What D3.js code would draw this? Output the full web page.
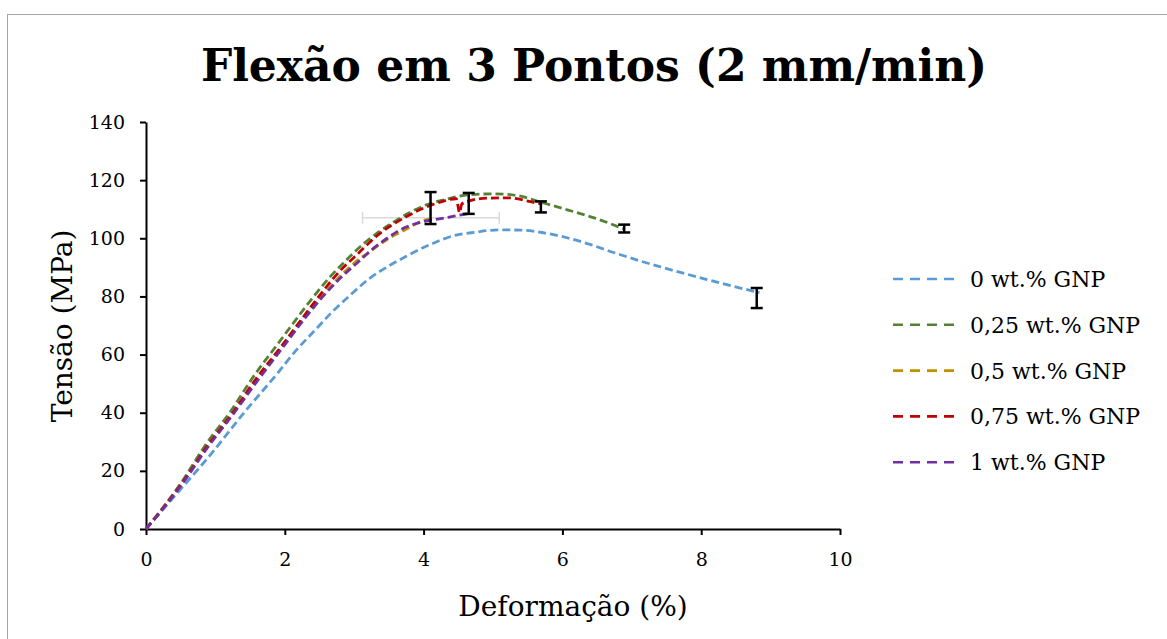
<!DOCTYPE html>
<html>
<head>
<meta charset="utf-8">
<script src="https://cdn.jsdelivr.net/npm/d3@7"></script>
<style>
  body { margin: 0; background: #fff; }
  text { font-family: Georgia, "DejaVu Serif", serif; fill: #000; }
</style>
</head>
<body>
<div id="chart"></div>
<script>
// data
const seriesNames = ["0 wt.% GNP", "0,25 wt.% GNP", "0,5 wt.% GNP", "0,75 wt.% GNP", "1 wt.% GNP"];
const seriesColors = ["#5b9bd5", "#548235", "#bf9000", "#c00000", "#7030a0"];

const strain0  = [0, 0.39, 0.93, 1.43, 1.91, 2.15, 2.42, 2.68, 2.95, 3.21, 3.50, 3.75, 4.09, 4.42, 4.75, 5.08, 5.42, 5.75, 6.08, 6.41, 6.74, 7.08, 7.41, 7.74, 8.07, 8.41, 8.84];
const stress0  = [0, 10.7, 25.6, 40.5, 54.0, 61.1, 68.0, 74.6, 80.6, 86.0, 90.5, 93.8, 97.8, 100.8, 102.1, 102.9, 102.8, 101.8, 100.1, 97.8, 95.1, 92.5, 90.2, 88.0, 85.9, 83.8, 81.3];

const strain025 = [0, 0.52, 0.86, 1.22, 1.55, 1.91, 2.15, 2.39, 2.63, 2.89, 3.15, 3.38, 3.57, 3.81, 4.05, 4.34, 4.63, 5.01, 5.35, 5.69, 6.07, 6.46, 6.89];
const stress025 = [0, 16.4, 29.0, 40.5, 52.5, 64.0, 71.7, 79.2, 86.1, 92.6, 98.4, 102.6, 105.6, 109.0, 111.6, 113.5, 114.9, 115.3, 114.7, 112.4, 109.8, 107.0, 103.2];

const strain05 = [0, 0.52, 0.88, 1.25, 1.60, 1.95, 2.30, 2.55, 2.80, 3.07, 3.19, 3.31, 3.50, 3.69, 3.84, 3.96, 4.08];
const stress05 = [0, 15.8, 28.3, 39.8, 51.2, 62.2, 73.2, 80.5, 87.0, 92.8, 94.8, 96.9, 100.0, 102.4, 104.3, 105.8, 106.6];

const strain075 = [0, 0.52, 0.88, 1.25, 1.58, 1.94, 2.30, 2.54, 2.78, 3.05, 3.32, 3.74, 4.17, 4.47, 4.52, 4.55, 4.63, 4.91, 5.22, 5.52, 5.69];
const stress075 = [0, 15.8, 28.4, 40.0, 51.5, 62.5, 74.0, 81.5, 88.4, 94.6, 100.7, 107.3, 111.9, 113.6, 108.8, 111.8, 112.6, 113.8, 113.9, 112.7, 111.8];

const strain1 = [0, 0.52, 0.88, 1.25, 1.60, 1.95, 2.30, 2.55, 2.80, 3.07, 3.28, 3.48, 3.67, 3.88, 4.05, 4.20, 4.37, 4.51, 4.63];
const stress1 = [0, 15.4, 27.8, 39.3, 50.8, 61.8, 72.8, 80.0, 86.3, 92.1, 96.6, 100.1, 103.0, 105.0, 106.0, 106.6, 107.3, 107.9, 108.4];

// vertical error bars (black)
const errStrain = [4.10, 4.65, 5.69, 6.89, 8.80];
const errLow    = [104.9, 108.4, 108.9, 102.0, 76.0];
const errHigh   = [115.9, 115.6, 112.7, 104.7, 82.9];

// horizontal error bar (light grey)
const xErrStress = 107.1;
const xErrLow = 3.12;
const xErrHigh = 5.09;

const xTicks = [0, 2, 4, 6, 8, 10];
const yTicks = [0, 20, 40, 60, 80, 100, 120, 140];

const titleText = "Flexão em 3 Pontos (2 mm/min)";
const xLabel = "Deformação (%)";
const yLabel = "Tensão (MPa)";

const W = 1167, H = 639;
const margin = { top: 122, left: 146 },
  width = 694,
  height = 407;

const svg = d3.select("#chart").append("svg")
  .attr("width", W)
  .attr("height", H);

svg.append("rect")
  .attr("x", 7.5).attr("y", 14.5)
  .attr("width", W + 20).attr("height", H + 20)
  .attr("fill", "#fff")
  .attr("stroke", "#a6a6a6")
  .attr("stroke-width", 1);

const g = svg.append("g")
  .attr("transform", "translate(" + margin.left + "," + margin.top + ")");

const x = d3.scaleLinear().domain([0, 10]).range([0, width]);
const y = d3.scaleLinear().domain([0, 140]).range([height, 0]);

svg.append("text")
  .attr("x", 594)
  .attr("y", 81)
  .attr("text-anchor", "middle")
  .style("font-size", "44px")
  .style("font-weight", "bold")
  .text(titleText);

// axes
const xAxis = d3.axisBottom(x).tickValues(xTicks).tickSize(6).tickPadding(18).tickSizeOuter(0);
const yAxis = d3.axisLeft(y).tickValues(yTicks).tickSize(6).tickPadding(15).tickSizeOuter(0);

const gx = g.append("g")
  .attr("transform", "translate(0," + height + ")")
  .call(xAxis);
const gy = g.append("g").call(yAxis);

[gx, gy].forEach(ax => {
  ax.selectAll("path.domain").attr("stroke", "#000").attr("stroke-width", 2);
  ax.selectAll(".tick line").attr("stroke", "#000").attr("stroke-width", 2);
  ax.selectAll(".tick text")
    .style("font-family", "Georgia, 'DejaVu Serif', serif")
    .style("font-size", "19px")
    .attr("fill", "#000");
});

svg.append("text")
  .attr("x", 573)
  .attr("y", 616)
  .attr("text-anchor", "middle")
  .style("font-size", "28px")
  .text(xLabel);

svg.append("text")
  .attr("transform", "translate(72,326) rotate(-90)")
  .attr("text-anchor", "middle")
  .style("font-size", "28px")
  .text(yLabel);

// horizontal grey error bar
g.append("line")
  .attr("x1", x(xErrLow)).attr("x2", x(xErrHigh))
  .attr("y1", y(xErrStress)).attr("y2", y(xErrStress))
  .attr("stroke", "#d9d9d9").attr("stroke-width", 1.5);
[xErrLow, xErrHigh].forEach(v => {
  g.append("line")
    .attr("x1", x(v)).attr("x2", x(v))
    .attr("y1", y(xErrStress) - 6).attr("y2", y(xErrStress) + 6)
    .attr("stroke", "#d9d9d9").attr("stroke-width", 1.5);
});

// curves
const allX = [strain0, strain025, strain05, strain075, strain1];
const allY = [stress0, stress025, stress05, stress075, stress1];

const line = d3.line()
  .x(d => x(d[0]))
  .y(d => y(d[1]))
  .curve(d3.curveMonotoneX);

allX.forEach((xs, i) => {
  const pts = xs.map((v, j) => [v, allY[i][j]]);
  g.append("path")
    .datum(pts)
    .attr("fill", "none")
    .attr("stroke", seriesColors[i])
    .attr("stroke-width", 2.8)
    .attr("stroke-dasharray", "8,4")
    .attr("d", line);
});

// black error bars
errStrain.forEach((v, i) => {
  const cx = x(v);
  g.append("line")
    .attr("x1", cx).attr("x2", cx)
    .attr("y1", y(errLow[i])).attr("y2", y(errHigh[i]))
    .attr("stroke", "#000").attr("stroke-width", 2.5);
  [errLow[i], errHigh[i]].forEach(e => {
    g.append("line")
      .attr("x1", cx - 6).attr("x2", cx + 6)
      .attr("y1", y(e)).attr("y2", y(e))
      .attr("stroke", "#000").attr("stroke-width", 2.5);
  });
});

// legend
const legend = svg.append("g").attr("transform", "translate(893,279)");
seriesNames.forEach((name, i) => {
  const row = legend.append("g").attr("transform", "translate(0," + (i * 45.8) + ")");
  row.append("line")
    .attr("x1", 0).attr("x2", 67)
    .attr("y1", 0).attr("y2", 0)
    .attr("stroke", seriesColors[i])
    .attr("stroke-width", 2.6)
    .attr("stroke-dasharray", "10,7");
  row.append("text")
    .attr("x", 77)
    .attr("y", 8)
    .style("font-size", "22px")
    .text(name);
});
</script>
</body>
</html>
